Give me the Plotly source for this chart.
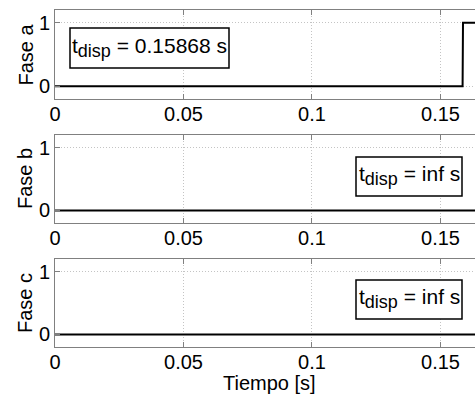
import plotly.graph_objects as go

# ---- data ----
t_a = [0.0, 0.15860, 0.15876, 0.17]
fase_a = [0, 0, 1, 1]
t_b = [0.0, 0.17]
fase_b = [0, 0]
t_c = [0.0, 0.17]
fase_c = [0, 0]
panel_labels = ["Fase a", "Fase b", "Fase c"]
tdisp_texts = ["0.15868", "inf", "inf"]
x_ticks = [0, 0.05, 0.1, 0.15]
x_ticklabels = ["0", "0.05", "0.1", "0.15"]
y_ticks = [0, 1]
x_label = "Tiempo [s]"

FONT = "Liberation Sans, Arial, Helvetica, sans-serif"
W, H = 475, 395
ML, MR, MT, MB = 55, 0, 10, 48
plot_w = W - ML - MR
plot_h = H - MT - MB
GRID = dict(showgrid=True, gridcolor="#c4c4c4", griddash="1px,2px", gridwidth=1)

# pixel extents (top, bottom) of each panel
panels_px = [(10, 99), (135, 223), (259, 347)]

fig = go.Figure()
series = [(t_a, fase_a), (t_b, fase_b), (t_c, fase_c)]
for i, ((top, bot), (tx, ty)) in enumerate(zip(panels_px, series)):
    n = "" if i == 0 else str(i + 1)
    d0 = (H - MB - bot) / plot_h
    d1 = (H - MB - top) / plot_h
    fig.add_trace(go.Scatter(x=tx, y=ty, mode="lines",
                             line=dict(color="black", width=2),
                             xaxis="x" + n, yaxis="y" + n, showlegend=False,
                             hoverinfo="skip"))
    fig.layout["xaxis" + n] = dict(
        domain=[0, 1], anchor="y" + n, range=[0, 0.16343],
        tickvals=x_ticks, ticktext=x_ticklabels,
        ticks="inside", ticklen=5, tickcolor="#808080", ticklabelstandoff=-3,
        showline=True, linecolor="#808080", linewidth=1, mirror="ticks",
        zeroline=False, tickfont=dict(family=FONT, size=20, color="black"),
        **GRID,
    )
    fig.layout["yaxis" + n] = dict(
        domain=[d0, d1], anchor="x" + n, range=[-0.2, 1.2],
        tickvals=y_ticks, ticks="inside", ticklen=5, tickcolor="#808080",
        ticklabelstandoff=0,
        showline=True, linecolor="#808080", linewidth=1, mirror=False,
        zeroline=False, tickfont=dict(family=FONT, size=20, color="black"),
        **GRID,
    )
    # y label
    fig.add_annotation(text=panel_labels[i], xref="paper", yref="y" + n + " domain",
                       x=(25 - ML) / plot_w, y=0.5, textangle=-90,
                       showarrow=False, xanchor="center", yanchor="middle",
                       font=dict(family=FONT, size=20, color="black"))

# t_disp boxes: (left, right, top, bottom) in px
box_px = [(70, 229, 28, 68), (356, 462, 157, 196), (356, 462, 280, 319)]
for i, (x0, x1, y0, y1) in enumerate(box_px):
    n = "" if i == 0 else str(i + 1)
    top, bot = panels_px[i]
    ph = bot - top
    fig.add_shape(type="rect", xref="x" + n + " domain", yref="y" + n + " domain",
                  x0=(x0 - ML) / plot_w, x1=(x1 - ML) / plot_w,
                  y0=(bot - y1) / ph, y1=(bot - y0) / ph,
                  line=dict(color="black", width=1.5), fillcolor="white",
                  layer="above")
    fig.add_annotation(
        text="t<sub><span style='font-size:18px'>disp</span></sub> = "
             + tdisp_texts[i] + " s",
        xref="x" + n + " domain", yref="y" + n + " domain",
        x=((x0 + x1) / 2 - ML) / plot_w, y=(bot - ((y0 + y1) / 2 - 1)) / ph,
        showarrow=False, xanchor="center", yanchor="middle",
        font=dict(family=FONT, size=21, color="black"))

# x label
fig.add_annotation(text=x_label, xref="paper", yref="paper",
                   x=(269.5 - ML) / plot_w, y=-(383 - (H - MB)) / plot_h,
                   showarrow=False, xanchor="center", yanchor="middle",
                   font=dict(family=FONT, size=20, color="black"))

fig.update_layout(width=W, height=H, margin=dict(l=ML, r=MR, t=MT, b=MB),
                  paper_bgcolor="white", plot_bgcolor="white",
                  font=dict(family=FONT, color="black"))
fig.write_html("out.html")
